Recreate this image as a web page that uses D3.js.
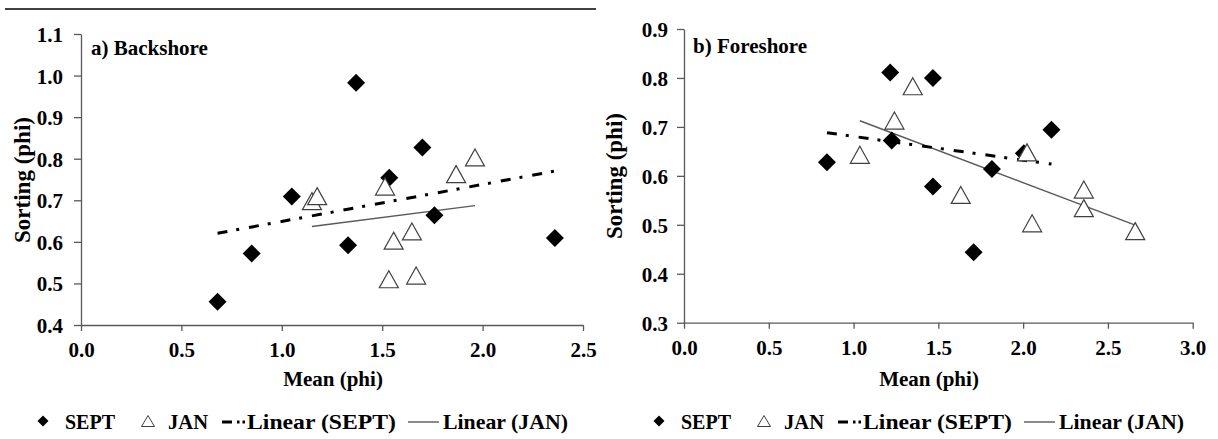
<!DOCTYPE html>
<html>
<head>
<meta charset="utf-8">
<script src="https://cdn.jsdelivr.net/npm/d3@7"></script>
<style>
  body { margin: 0; background: #fff; }
  svg { display: block; }
  text { font-family: "Liberation Serif", "Times New Roman", serif; font-weight: bold; fill: #000; }
</style>
</head>
<body>
<svg id="chart" width="1218" height="439"></svg>
<script>
// Backshore data (mean phi, sorting phi)
const backSeptMean = [0.68, 0.85, 1.05, 1.37, 1.33, 1.535, 1.70, 1.76, 2.36];
const backSeptSort = [0.456, 0.572, 0.709, 0.983, 0.592, 0.754, 0.827, 0.664, 0.609];
const backJanMean = [1.15, 1.176, 1.514, 1.557, 1.533, 1.648, 1.669, 1.868, 1.962];
const backJanSort = [0.698, 0.710, 0.733, 0.603, 0.510, 0.625, 0.519, 0.763, 0.803];

// Foreshore data
const foreSeptMean = [0.843, 1.216, 1.225, 1.468, 2.167, 2.004, 1.816, 1.468, 1.708];
const foreSeptSort = [0.628, 0.811, 0.672, 0.800, 0.694, 0.646, 0.614, 0.578, 0.444];
const foreJanMean = [1.037, 1.241, 1.349, 1.632, 2.023, 2.358, 2.358, 2.053, 2.661];
const foreJanSort = [0.643, 0.713, 0.783, 0.561, 0.648, 0.572, 0.534, 0.503, 0.487];

// Tick labels
const backXTicks = [0, 0.5, 1.0, 1.5, 2.0, 2.5];
const backYTicks = [0.4, 0.5, 0.6, 0.7, 0.8, 0.9, 1.0, 1.1];
const foreXTicks = [0, 0.5, 1.0, 1.5, 2.0, 2.5, 3.0];
const foreYTicks = [0.3, 0.4, 0.5, 0.6, 0.7, 0.8, 0.9];

const legendLabels = ['SEPT', 'JAN', 'Linear (SEPT)', 'Linear (JAN)'];

const svg = d3.select('#chart');
const fmt = d3.format('.1f');
const axisGrey = '#595959';
const serif = '"Liberation Serif", "Times New Roman", serif';

//Top rule
svg.append('line')
  .attr('x1', 5).attr('x2', 596)
  .attr('y1', 9).attr('y2', 9)
  .attr('stroke', '#000')
  .attr('stroke-width', 1.5);

//Least squares fit, returned as two end points
function fit(xs, ys) {
  const mx = d3.mean(xs);
  const my = d3.mean(ys);
  let sxy = 0, sxx = 0;
  xs.forEach((v, i) => {
    sxy += (v - mx) * (ys[i] - my);
    sxx += (v - mx) * (v - mx);
  });
  const b = sxy / sxx;
  const x0 = d3.min(xs), x1 = d3.max(xs);
  return [[x0, my + b * (x0 - mx)], [x1, my + b * (x1 - mx)]];
}

const diamond = d3.symbol().type(d3.symbolSquare).size(162)();
const triangle = 'M0,-8.5L9.5,8.5L-9.5,8.5Z';

function panel(p) {
  const g = svg.append('g');
  const x = d3.scaleLinear().domain(p.xDomain).range(p.xRange);
  const y = d3.scaleLinear().domain(p.yDomain).range(p.yRange);

  const xAxis = g.append('g')
    .attr('transform', `translate(0,${p.yRange[0]})`)
    .call(d3.axisBottom(x).tickValues(p.xTicks).tickFormat(fmt).tickSize(6).tickSizeOuter(0));
  xAxis.selectAll('text').attr('y', 32).attr('dy', null);

  const yAxis = g.append('g')
    .attr('transform', `translate(${p.xRange[0]},0)`)
    .call(d3.axisLeft(y).tickValues(p.yTicks).tickFormat(fmt).tickSize(7).tickSizeOuter(0));
  yAxis.selectAll('text').attr('x', -p.labelGap).attr('dy', '0.36em');

  [xAxis, yAxis].forEach(a => a.selectAll('text')
    .style('font-size', '21px'));

  g.selectAll('.domain, .tick line').attr('stroke', axisGrey).attr('stroke-width', 1.3);

  // axis titles
  g.append('text')
    .attr('x', p.xTitle[0]).attr('y', p.xTitle[1])
    .attr('text-anchor', 'middle')
    .attr('font-size', 21)
    .text('Mean (phi)');

  g.append('text')
    .attr('transform', `translate(${p.yTitle[0]},${p.yTitle[1]}) rotate(-90)`)
    .attr('text-anchor', 'middle')
    .attr('font-size', 23)
    .text('Sorting (phi)');

  g.append('text')
    .attr('x', p.title[0]).attr('y', p.title[1])
    .attr('font-size', 21)
    .text(p.titleText);

  // trend lines
  const line = d3.line().x(d => x(d[0])).y(d => y(d[1]));

  g.append('path')
    .attr('d', line(fit(p.janMean, p.janSort)))
    .attr('fill', 'none')
    .attr('stroke', '#595959')
    .attr('stroke-width', 1.4);

  g.append('path')
    .attr('d', line(fit(p.septMean, p.septSort)))
    .attr('fill', 'none')
    .attr('stroke', '#000')
    .attr('stroke-width', 3)
    .attr('stroke-dasharray', '10,9,3,10');

  // SEPT diamonds
  g.selectAll('.sept')
    .data(p.septMean)
    .join('path')
    .attr('class', 'sept')
    .attr('d', diamond)
    .attr('transform', (d, i) => `translate(${x(d)},${y(p.septSort[i])}) rotate(45)`)
    .attr('fill', '#000');

  // JAN triangles
  g.selectAll('.jan')
    .data(p.janMean)
    .join('path')
    .attr('class', 'jan')
    .attr('d', triangle)
    .attr('transform', (d, i) => `translate(${x(d)},${y(p.janSort[i])})`)
    .attr('fill', '#fff')
    .attr('stroke', '#404040')
    .attr('stroke-width', 1.2);

  legend(p.legendX);
}

//Legend row under each panel
function legend(ox) {
  const lg = svg.append('g').attr('transform', `translate(${ox},0)`);
  const ty = 429;
  const my = 421;
  const label = (x, w, t) => lg.append('text')
    .attr('x', x).attr('y', ty)
    .attr('font-size', 21)
    .attr('textLength', w)
    .attr('lengthAdjust', 'spacingAndGlyphs')
    .text(t);

  lg.append('path')
    .attr('d', d3.symbol().type(d3.symbolSquare).size(60)())
    .attr('transform', `translate(43,${my}) rotate(45)`)
    .attr('fill', '#000');
  label(65, 50, legendLabels[0]);

  lg.append('path')
    .attr('d', 'M0,-5.5L6.5,5.5L-6.5,5.5Z')
    .attr('transform', `translate(148,${my})`)
    .attr('fill', '#fff')
    .attr('stroke', '#404040')
    .attr('stroke-width', 1);
  label(168, 40, legendLabels[1]);

  lg.append('line')
    .attr('x1', 222).attr('x2', 246)
    .attr('y1', my + 1).attr('y2', my + 1)
    .attr('stroke', '#000')
    .attr('stroke-width', 3)
    .attr('stroke-dasharray', '10,5,2.5,3,2.5,20');
  label(247, 149, legendLabels[2]);

  lg.append('line')
    .attr('x1', 408).attr('x2', 439)
    .attr('y1', my + 1).attr('y2', my + 1)
    .attr('stroke', '#595959')
    .attr('stroke-width', 1.4);
  label(443, 125, legendLabels[3]);
}

panel({
  xDomain: [0, 2.5], xRange: [81, 583],
  yDomain: [0.4, 1.1], yRange: [325, 34],
  xTicks: backXTicks, yTicks: backYTicks,
  labelGap: 18,
  xTitle: [333, 386], yTitle: [30, 180],
  title: [91, 55], titleText: 'a) Backshore',
  septMean: backSeptMean, septSort: backSeptSort,
  janMean: backJanMean, janSort: backJanSort,
  legendX: 0
});

panel({
  xDomain: [0, 3], xRange: [684, 1192.7],
  yDomain: [0.3, 0.9], yRange: [322.7, 29],
  xTicks: foreXTicks, yTicks: foreYTicks,
  labelGap: 16,
  xTitle: [929, 386], yTitle: [622, 176],
  title: [693, 53], titleText: 'b) Foreshore',
  septMean: foreSeptMean, septSort: foreSeptSort,
  janMean: foreJanMean, janSort: foreJanSort,
  legendX: 616
});

//Force the serif face on every label, the axis groups set their own
svg.selectAll('text')
  .style('font-family', serif)
  .style('font-weight', 'bold');
</script>
</body>
</html>
